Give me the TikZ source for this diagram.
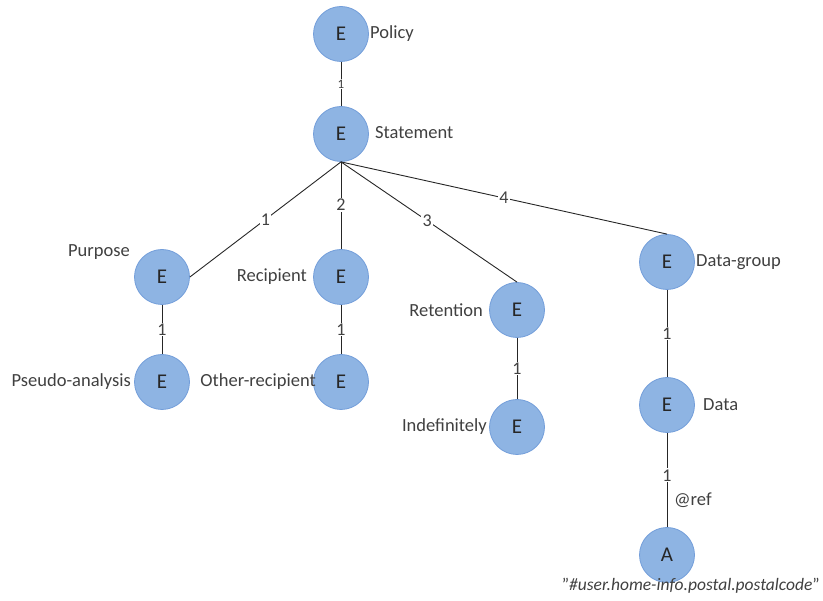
\documentclass[tikz,border=0pt]{standalone}
\usepackage{fontspec}
\setmainfont{Carlito}
\definecolor{entfill}{RGB}{142,180,227}
\definecolor{entline}{RGB}{115,158,218}
\definecolor{txt}{RGB}{64,64,64}
\begin{document}
\begin{tikzpicture}[x=1pt,y=-1pt,
  ent/.style={circle,draw=entline,line width=0.8pt,fill=entfill,minimum size=55pt,inner sep=0pt,
    font=\fontsize{21}{22}\selectfont,text=black!85},
  lbl/.style={inner sep=0pt,font=\fontsize{18.5}{20}\selectfont,text=txt},
  link/.style={draw=black!85,line width=0.9pt},
  num/.style={fill=white,inner sep=1.2pt,font=\fontsize{18}{20}\selectfont,text=txt},
  smallnum/.style={fill=white,inner sep=1pt,font=\fontsize{13}{14}\selectfont,text=txt}]
\useasboundingbox (0,0) rectangle (823,601);

% entity and attribute circles
\node[ent] (policy)   at (341,34)  {E};
\node[ent] (stmt)     at (341,134) {E};
\node[ent] (purpose)  at (162,277) {E};
\node[ent] (recip)    at (341,277) {E};
\node[ent] (reten)    at (517,310) {E};
\node[ent] (dgroup)   at (667,262) {E};
\node[ent] (pseudo)   at (162,382) {E};
\node[ent] (other)    at (341,382) {E};
\node[ent] (indef)    at (517,427) {E};
\node[ent] (data)     at (667,405) {E};
\node[ent] (attr)     at (667,555) {A};

% names beside the circles
\node[lbl,anchor=west] (tpolicy)  at (370,34)  {Policy};
\node[lbl,anchor=west] (tstmt)    at (375,133) {Statement};
\node[lbl,anchor=east] (tpurpose) at (130,252) {Purpose};
\node[lbl,anchor=east] (trecip)   at (307,277) {Recipient};
\node[lbl,anchor=east] (treten)   at (483,310) {Retention};
\node[lbl,anchor=west] (tdgroup)  at (696,262) {Data-group};
\node[lbl,anchor=east] (tpseudo)  at (131,382) {Pseudo-analysis};
\node[lbl,anchor=east] (tother)   at (316,382) {Other-recipient};
\node[lbl,anchor=east] (tindef)   at (487,427) {Indefinitely};
\node[lbl,anchor=west] (tdata)    at (703,405) {Data};
\node[lbl,anchor=west] (tref)     at (674,500) {@ref};
\node[lbl,anchor=east,font=\fontsize{17.5}{20}\selectfont] (tvalue) at (820,586)
  {\symbol{34}\textit{\#user.home-info.postal.postalcode}\symbol{34}};

% connectors with their numbers
\draw[link] (policy.south) -- node[smallnum] {1} (stmt.north);
\draw[link] (stmt.south) -- node[num,pos=0.5] {1} (purpose.east);
\draw[link] (stmt.south) -- node[num,pos=0.49] {2} (recip.north);
\draw[link] (stmt.south) -- node[num,pos=0.49] {3} (reten.north);
\draw[link] (stmt.south) -- node[num,pos=0.5] {4} (dgroup.north);
\draw[link] (purpose.south) -- node[num] {1} (pseudo.north);
\draw[link] (recip.south) -- node[num] {1} (other.north);
\draw[link] (reten.south) -- node[num] {1} (indef.north);
\draw[link] (dgroup.south) -- node[num] {1} (data.north);
\draw[link] (data.south) -- node[num,pos=0.45] {1} (attr.north);
\end{tikzpicture}
\end{document}
